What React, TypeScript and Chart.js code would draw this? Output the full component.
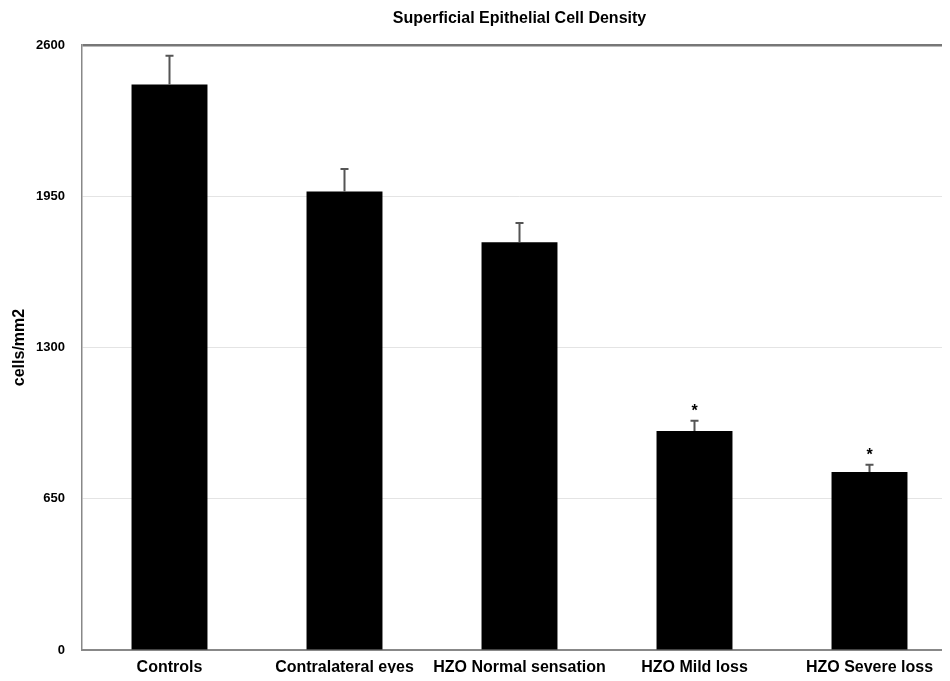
import React, { useEffect, useRef } from "react";
import { Chart, registerables } from "chart.js";

Chart.register(...registerables);

const categories = ["Controls", "Contralateral eyes", "HZO Normal sensation", "HZO Mild loss", "HZO Severe loss"];
const densities = [2430, 1970, 1752, 941, 765];
const errors = [124, 97, 83, 44, 31];
const significant = [false, false, false, true, true];
const yTicks = [0, 650, 1300, 1950, 2600];
const titleText = "Superficial Epithelial Cell Density";
const yTitle = "cells/mm2";

const FONT = "'Liberation Sans', Arial, sans-serif";

const errorBarPlugin = {
  id: "errorBars",
  afterDatasetsDraw(chart: any) {
    const ctx = chart.ctx;
    const meta = chart.getDatasetMeta(0);
    const y = chart.scales.y;
    ctx.save();
    ctx.strokeStyle = "#555";
    ctx.lineWidth = 2;
    meta.data.forEach((bar: any, i: number) => {
      const x = bar.x;
      const yTop = y.getPixelForValue(densities[i] + errors[i]);
      const yBase = y.getPixelForValue(densities[i]);
      ctx.beginPath();
      ctx.moveTo(x, yBase);
      ctx.lineTo(x, yTop);
      ctx.moveTo(x - 4, yTop);
      ctx.lineTo(x + 4, yTop);
      ctx.stroke();
      if (significant[i]) {
        ctx.fillStyle = "#000";
        ctx.font = `bold 16px ${FONT}`;
        ctx.textAlign = "center";
        ctx.textBaseline = "middle";
        ctx.fillText("*", x, yTop - 9);
      }
    });
    ctx.restore();
  },
};

const titlePlugin = {
  id: "centeredTitle",
  afterDraw(chart: any) {
    const ctx = chart.ctx;
    const area = chart.chartArea;
    ctx.save();
    ctx.fillStyle = "#000";
    ctx.font = `bold 16px ${FONT}`;
    ctx.textAlign = "center";
    ctx.textBaseline = "middle";
    ctx.fillText(titleText, (area.left + area.right) / 2, 11);
    ctx.restore();
  },
};

export default function App() {
  const ref = useRef<HTMLCanvasElement | null>(null);
  useEffect(() => {
    if (!ref.current) return;
    const chart = new Chart(ref.current, {
      type: "bar",
      data: {
        labels: categories,
        datasets: [
          {
            data: densities,
            backgroundColor: "#000",
            borderWidth: 0,
            barPercentage: 0.434,
            categoryPercentage: 1,
          },
        ],
      },
      options: {
        animation: false,
        responsive: false,
        maintainAspectRatio: false,
        layout: { padding: { top: 37, right: 1, left: 0, bottom: 0 } },
        plugins: {
          legend: { display: false },
          title: { display: false },
          tooltip: { enabled: false },
        },
        scales: {
          x: {
            grid: { display: false, drawTicks: false },
            border: { display: true, color: "#888", width: 2 },
            ticks: {
              color: "#000",
              padding: 8,
              maxRotation: 0,
              autoSkip: false,
              font: { family: FONT, size: 16, weight: "bold" },
            },
            afterFit(scale: any) {
              scale.height = 31;
            },
          },
          y: {
            min: 0,
            max: 2600,
            afterBuildTicks(scale: any) {
              scale.ticks = yTicks.map((v) => ({ value: v }));
            },
            grid: {
              drawTicks: false,
              color: (c: any) => (c.tick && c.tick.value === 2600 ? "#777" : "#e4e4e4"),
              lineWidth: (c: any) => (c.tick && c.tick.value === 2600 ? 2.5 : 1),
            },
            border: { display: true, color: "#888", width: 1.5 },
            ticks: {
              color: "#000",
              padding: 17,
              callback: (v: any) => String(v),
              font: { family: FONT, size: 13, weight: "bold" },
            },
            title: {
              display: true,
              text: yTitle,
              color: "#000",
              padding: { top: 2, bottom: 0 },
              font: { family: FONT, size: 16, weight: "bold" },
            },
            afterFit(scale: any) {
              scale.width = 74;
            },
          },
        },
      },
      plugins: [errorBarPlugin, titlePlugin],
    });
    return () => chart.destroy();
  }, []);
  return (
    <div style={{ width: 942, height: 673, overflow: "hidden", marginBottom: -8 }}>
      <canvas ref={ref} width={950} height={673} style={{ display: "block" }} />
    </div>
  );
}
